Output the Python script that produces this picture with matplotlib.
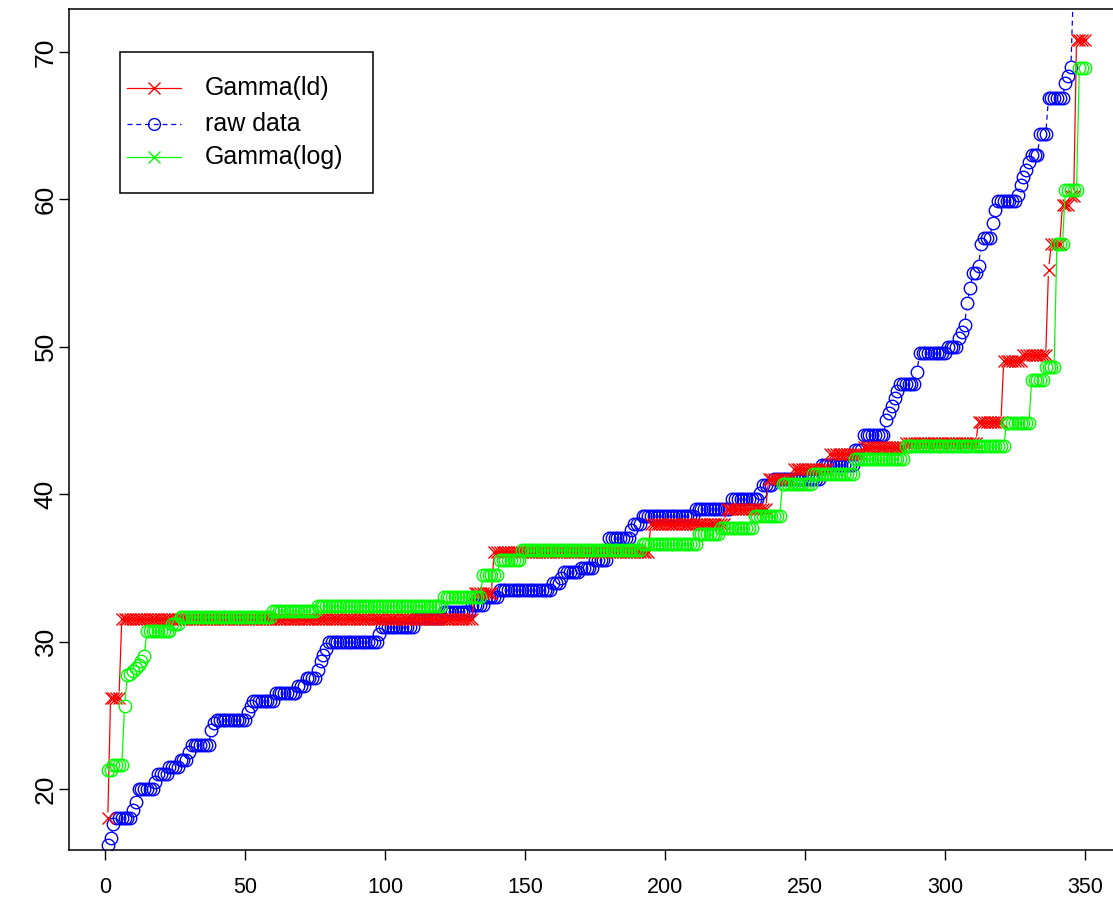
import numpy as np
import matplotlib
matplotlib.use("Agg")
import matplotlib.pyplot as plt
from matplotlib.lines import Line2D
from matplotlib.patches import Rectangle
from matplotlib.collections import LineCollection

plt.rcParams['font.family'] = ['Liberation Sans', 'DejaVu Sans']

# sorted raw data: plateau values and number of points on each
raw_levels = [16.2, 16.7, 17.6, 18.0, 18.6, 19.1, 20.0, 20.5, 21.0, 21.5,
              22.0, 22.5, 23.0, 24.0, 24.5, 24.7, 25.2, 25.6, 26.0, 26.5,
              27.0, 27.5, 28.1, 28.7, 29.1, 29.5, 30.0, 30.5, 31.0, 31.6,
              32.0, 32.5, 33.0, 33.5, 34.0, 34.3, 34.7, 35.0, 35.5, 37.0,
              37.6, 38.0, 38.5, 39.0, 39.7, 40.1, 40.6, 41.0, 42.0, 43.0,
              44.0, 45.0, 45.5, 46.0, 46.5, 47.0, 47.5, 48.3, 49.6, 50.0,
              50.6, 51.0, 51.5, 53.0, 54.0, 55.0, 55.5, 57.0, 57.4, 58.4,
              59.3, 59.9, 60.3, 61.0, 61.5, 62.0, 62.5, 63.0, 64.4, 66.9,
              67.9, 68.4, 69.0, 75.0, 78.0, 81.0, 85.0, 92.0]
raw_counts = [1, 1, 1, 6, 1, 1, 6, 1, 4, 4,
              3, 1, 7, 1, 1, 11, 1, 1, 8, 8,
              3, 4, 1, 1, 1, 1, 18, 1, 12, 10,
              10, 5, 5, 19, 3, 1, 6, 5, 5, 8,
              1, 3, 19, 13, 10, 1, 4, 17, 12, 3,
              8, 1, 1, 1, 1, 1, 6, 1, 10, 4,
              1, 1, 1, 1, 1, 2, 1, 1, 3, 1,
              1, 7, 1, 1, 1, 1, 1, 3, 3, 6,
              1, 1, 1, 1, 1, 1, 1, 1]

# gamma quantiles, ld fit
ld_levels = [18.0, 26.2, 31.55, 33.3, 36.1, 38.0, 39.0, 41.0, 41.7, 42.7,
             43.2, 43.5, 44.9, 49.0, 49.45, 55.2, 57.0, 59.6, 60.2, 70.8]
ld_counts = [1, 4, 126, 7, 56, 27, 15, 9, 13, 12,
             15, 26, 9, 7, 9, 1, 4, 3, 2, 4]

# gamma quantiles, log fit
log_levels = [21.3, 21.6, 25.6, 27.7, 27.8, 28.0, 28.2, 28.4, 28.7, 29.0,
              30.7, 31.2, 31.7, 32.1, 32.4, 33.0, 34.5, 35.5, 36.2, 36.65,
              37.3, 37.7, 38.5, 40.7, 41.4, 42.4, 43.3, 44.8, 47.75, 48.6,
              57.0, 60.6, 68.9]
log_counts = [2, 4, 1, 1, 1, 1, 1, 1, 1, 1,
              9, 3, 33, 16, 45, 14, 6, 8, 43, 20,
              8, 12, 10, 11, 15, 18, 36, 9, 5, 4,
              3, 5, 3]

raw = np.repeat(raw_levels, raw_counts)
ld = np.repeat(ld_levels, ld_counts)
lg = np.repeat(log_levels, log_counts)

W, H = 1113, 909
fig = plt.figure(figsize=(W / 100, H / 100), dpi=100)
# plot area is cut off on the right in the original
ax = fig.add_axes([68.7 / W, 59.4 / H, 1055.3 / W, 840.6 / H])

n = len(ld)
ax.set_xlim(1 - 0.04 * (n - 1), n + 0.04 * (n - 1))
pad = 0.04 * (ld.max() - ld.min())
ax.set_ylim(ld.min() - pad, ld.max() + pad)


def gap_lines(x, y, color, ls, gap=6):
    # R type="b": segments stop short of the points
    pts = ax.transData.transform(np.column_stack([x, y]))
    inv = ax.transData.inverted()
    segs = []
    for p0, p1 in zip(pts[:-1], pts[1:]):
        d = p1 - p0
        L = np.hypot(*d)
        if L > 2 * gap:
            u = d / L
            segs.append(inv.transform([p0 + u * gap, p1 - u * gap]))
    ax.add_collection(LineCollection(segs, colors=color, linewidths=0.9,
                                     linestyles=ls))


x_ld = np.arange(1, len(ld) + 1)
x_raw = np.arange(1, len(raw) + 1)
x_lg = np.arange(1, len(lg) + 1)

gap_lines(x_raw, raw, 'blue', (0, (4, 3)))
ax.plot(x_raw, raw, ls='none', marker='o', ms=9, mfc='none', mec='blue', mew=1.0)
gap_lines(x_ld, ld, 'red', '-')
ax.plot(x_ld, ld, ls='none', marker='x', ms=9, mec='red', mew=1.0)
gap_lines(x_lg, lg, '#00ff00', '-')
ax.plot(x_lg, lg, ls='none', marker='o', ms=9, mfc='none', mec='#00ff00', mew=1.0)

ax.set_xticks([0, 50, 100, 150, 200, 250, 300, 350])
ax.set_yticks([20, 30, 40, 50, 60, 70])
ax.tick_params(axis='both', length=7, width=1, color='black')
ax.tick_params(axis='x', pad=13, labelsize=15.5)
ax.tick_params(axis='y', pad=1, labelrotation=90, labelsize=19)
for lab in ax.get_yticklabels():
    lab.set_va('center')
for s in ax.spines.values():
    s.set_linewidth(1.1)

# legend box drawn by hand
def fx(px):
    return (px - 68.7) / 1055.3


def fy(py):
    return (849.6 - py) / 840.6


ax.add_patch(Rectangle((fx(120), fy(193)), fx(373) - fx(120), fy(52) - fy(193),
                       transform=ax.transAxes, fill=False, ec='black', lw=1.1,
                       zorder=5))
entries = [('Gamma(ld)', 'red', '-', 'x', 88),
           ('raw data', 'blue', (0, (4, 3)), 'o', 124),
           ('Gamma(log)', '#00ff00', '-', 'x', 157)]
for label, col, ls, mk, py in entries:
    ax.add_line(Line2D([fx(127), fx(181)], [fy(py), fy(py)], transform=ax.transAxes,
                       color=col, ls=ls, lw=0.9, zorder=6))
    ax.add_line(Line2D([fx(154)], [fy(py)], transform=ax.transAxes, ls='none',
                       marker=mk, ms=8.5, mfc='none', mec=col, mew=1.0, zorder=6))
    ax.text(fx(205), fy(py), label, transform=ax.transAxes, fontsize=18,
            va='center', ha='left', zorder=6)

fig.savefig('out.png', dpi=100)
